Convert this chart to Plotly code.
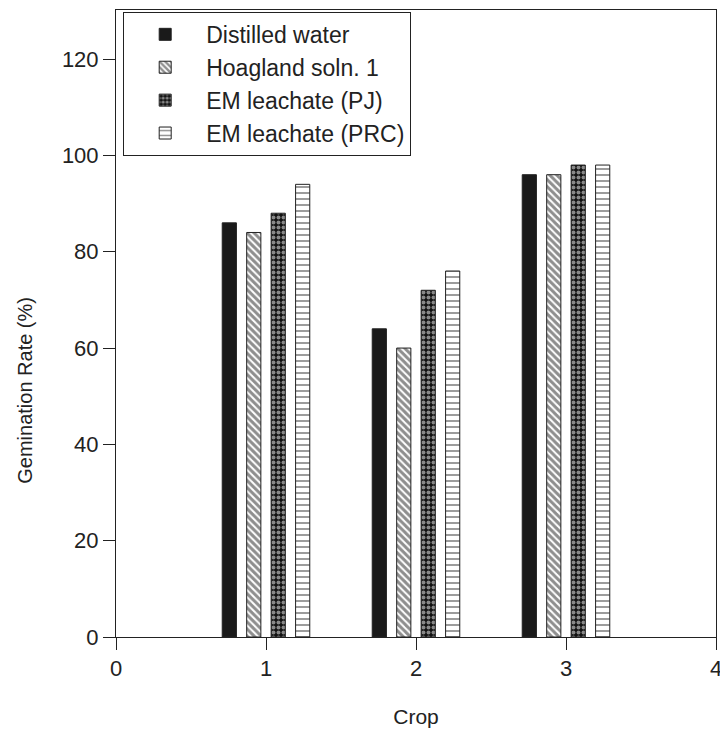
import plotly.graph_objects as go

crops = [1, 2, 3]
distilled = [86, 64, 96]
hoagland = [84, 60, 96]
em_pj = [88, 72, 98]
em_prc = [94, 76, 98]

series = [
    ("Distilled water", distilled, dict(color="#1a1a1a")),
    ("Hoagland soln. 1", hoagland, dict(color="white", pattern=dict(shape="\\", fgcolor="#1e1e1e", bgcolor="white", size=5, solidity=0.6))),
    ("EM leachate (PJ)", em_pj, dict(color="#111111", pattern=dict(shape=".", fgcolor="white", bgcolor="#111111", size=5, solidity=0.5))),
    ("EM leachate (PRC)", em_prc, dict(color="white", pattern=dict(shape="-", fgcolor="#222222", bgcolor="white", size=6, solidity=0.3))),
]

fig = go.Figure()
for name, vals, m in series:
    m = dict(m)
    m["line"] = dict(color="#222222", width=1)
    fig.add_trace(go.Bar(x=crops, y=vals, name=name, marker=m))

font = "Liberation Sans, Arial, sans-serif"
fig.update_layout(
    width=720, height=731,
    margin=dict(l=116, r=4, t=10, b=94, autoexpand=False),
    paper_bgcolor="white", plot_bgcolor="white",
    barmode="group", bargap=0.348, bargroupgap=0.42,
    font=dict(family=font, size=22, color="#222222"),
    showlegend=True,
    legend=dict(x=0.012, y=0.997, xanchor="left", yanchor="top",
                bordercolor="#222222", borderwidth=1, bgcolor="white",
                font=dict(size=23), tracegroupgap=0, itemwidth=72),
    xaxis=dict(range=[0, 4], tickmode="array", tickvals=[0, 1, 2, 3, 4],
               ticks="outside", ticklen=12, tickcolor="#222222", automargin=False,
               ticklabeloverflow="allow", tickfont=dict(size=22),
               showline=True, linecolor="#222222", linewidth=1, mirror=True,
               showgrid=False, zeroline=False,
               title=dict(text="Crop", font=dict(size=21), standoff=28)),
    yaxis=dict(range=[0, 130.2], tickmode="array", tickvals=[0, 20, 40, 60, 80, 100, 120],
               ticks="outside", ticklen=12, tickcolor="#222222", tickfont=dict(size=22),
               showline=True, linecolor="#222222", linewidth=1, mirror=True,
               showgrid=False, zeroline=False, automargin=False),
    annotations=[dict(text="Gemination Rate (%)", textangle=-90, xref="paper", yref="paper",
                      x=-0.152, y=0.394, showarrow=False, font=dict(size=20),
                      xanchor="center", yanchor="middle")],
)
fig.write_html("out.html")
